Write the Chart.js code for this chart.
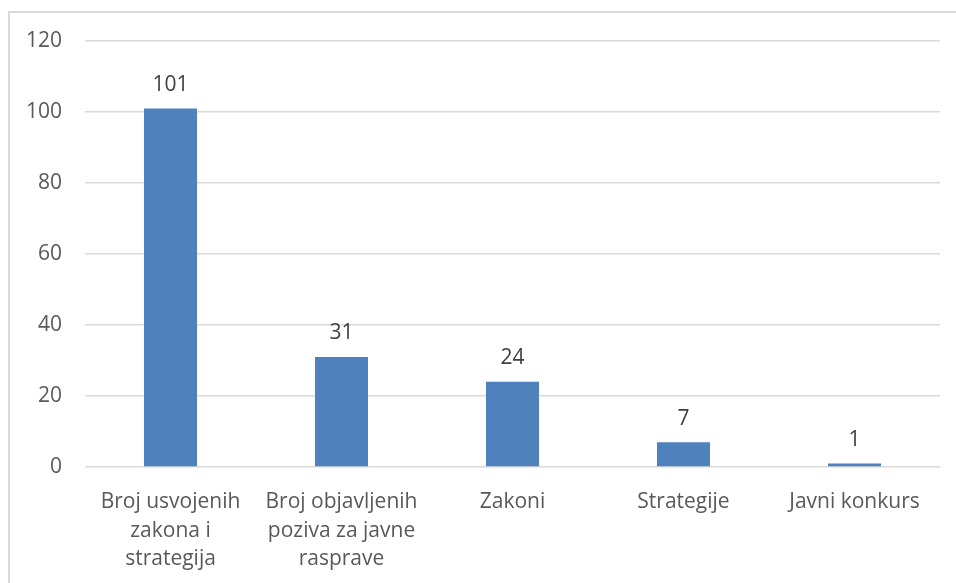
<!DOCTYPE html>
<html>
<head>
<meta charset="utf-8">
<script src="https://cdn.jsdelivr.net/npm/chart.js@4/dist/chart.umd.min.js"></script>
<style>
  html, body { margin: 0; padding: 0; background: #fff; overflow: hidden; }
  #wrap { position: relative; width: 956px; height: 583px; }
  #frame { position: absolute; left: 8px; top: 11px; width: 1000px; height: 700px; border: 2px solid #d9d9d9; box-sizing: border-box; }
  canvas { position: absolute; left: 0; top: 0; }
</style>
</head>
<body>
<div id="wrap">
  <div id="frame"></div>
  <canvas id="chart" width="956" height="583"></canvas>
</div>
<script>
// kategorije i vrijednosti
const kategorije = [
  ['Broj usvojenih', 'zakona i', 'strategija'],
  ['Broj objavljenih', 'poziva za javne', 'rasprave'],
  'Zakoni',
  'Strategije',
  'Javni konkurs'
];
const vrijednosti = [101, 31, 24, 7, 1];
const yMin = 0;
const yMax = 120;
const yKorak = 20;

const FONT = '"Open Sans", "Liberation Sans", sans-serif';

// vrijednosti iznad stubaca
const oznakePlugin = {
  id: 'oznake',
  afterDatasetsDraw(chart) {
    const ctx = chart.ctx;
    const meta = chart.getDatasetMeta(0);
    ctx.save();
    ctx.font = '21px ' + FONT;
    ctx.fillStyle = '#404040';
    ctx.textAlign = 'center';
    ctx.textBaseline = 'bottom';
    meta.data.forEach((bar, i) => {
      ctx.fillText(String(vrijednosti[i]), bar.x, bar.y - 13);
    });
    ctx.restore();
  }
};

new Chart(document.getElementById('chart'), {
  type: 'bar',
  data: {
    labels: kategorije,
    datasets: [{
      data: vrijednosti,
      backgroundColor: '#4f81bd',
      borderWidth: 0,
      barPercentage: 1,
      categoryPercentage: 0.31
    }]
  },
  options: {
    responsive: false,
    animation: false,
    layout: { padding: { left: 0, right: 16, top: 41, bottom: 0 } },
    plugins: { legend: { display: false }, tooltip: { enabled: false } },
    scales: {
      x: {
        grid: { display: false },
        border: { display: false },
        ticks: {
          color: '#595959',
          font: { family: FONT, size: 21, lineHeight: '28.5px' },
          padding: 13,
          maxRotation: 0,
          autoSkip: false
        },
        afterFit: s => { s.height = 116; }
      },
      y: {
        min: yMin,
        max: yMax,
        grid: { color: '#d9d9d9', lineWidth: 1.5, drawTicks: false },
        border: { display: false },
        ticks: {
          stepSize: yKorak,
          color: '#595959',
          font: { family: FONT, size: 21 },
          padding: 23
        },
        afterFit: s => { s.width = 85; }
      }
    }
  },
  plugins: [oznakePlugin]
});
</script>
</body>
</html>
